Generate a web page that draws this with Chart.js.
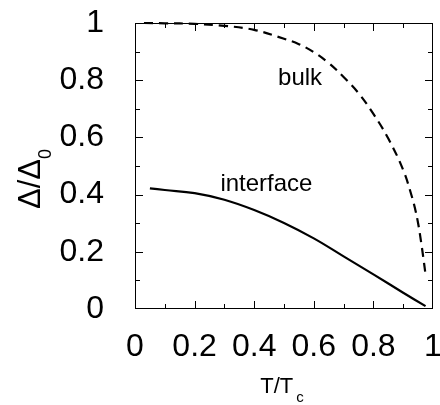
<!DOCTYPE html>
<html lang="en">
<head>
<meta charset="UTF-8">
<title>Gap vs temperature</title>
<script src="https://cdn.jsdelivr.net/npm/chart.js"></script>
<style>
  body { margin: 0; background: #fff; }
</style>
</head>
<body>
<canvas id="gapChart" width="440" height="405"></canvas>
<script>
  // reduced temperature T/Tc and normalised gap for each curve
  const bulkT = [0.03, 0.1, 0.2, 0.3, 0.4, 0.5, 0.55, 0.6, 0.65, 0.7, 0.75, 0.8, 0.85, 0.9, 0.93, 0.94, 0.95, 0.96, 0.97, 0.975];
  const bulkGap = [1.0, 0.999, 0.997, 0.99, 0.976, 0.945, 0.926, 0.898, 0.86, 0.811, 0.755, 0.682, 0.596, 0.486, 0.39, 0.35, 0.30, 0.235, 0.16, 0.12];
  const interfaceT = [0.05, 0.1, 0.2, 0.3, 0.4, 0.5, 0.6, 0.7, 0.8, 0.9, 0.975];
  const interfaceGap = [0.422, 0.416, 0.405, 0.382, 0.346, 0.301, 0.247, 0.184, 0.121, 0.057, 0.010];
  const tickValues = [0, 0.2, 0.4, 0.6, 0.8, 1];
  const curveNames = ['bulk', 'interface'];

  const FONT = '"Liberation Sans", Arial, sans-serif';
  // where the curve names sit, in data units (t, gap)
  const nameAnchors = [[0.554, 0.783], [0.441, 0.413]];

  const toPoints = (xs, ys) => xs.map((t, i) => ({ x: t, y: ys[i] }));

  // closed frame with inward ticks on all four sides, plus curve names and axis titles
  const frameTicks = {
    id: 'frameTicks',
    afterDatasetsDraw(chart) {
      const { ctx, chartArea: a, scales: { x, y } } = chart;
      ctx.save();
      ctx.strokeStyle = '#000';
      ctx.lineWidth = 1;
      ctx.strokeRect(a.left + 0.5, a.top + 0.5, a.right - a.left - 1, a.bottom - a.top - 1);

      ctx.beginPath();
      for (let i = 1; i < 10; i++) {
        const v = i / 10;
        const len = i % 2 === 0 ? 8 : 5;
        const px = Math.round(x.getPixelForValue(v)) + 0.5;
        const py = Math.round(y.getPixelForValue(v)) + 0.5;
        ctx.moveTo(px, a.bottom); ctx.lineTo(px, a.bottom - len);
        ctx.moveTo(px, a.top); ctx.lineTo(px, a.top + len);
        ctx.moveTo(a.left, py); ctx.lineTo(a.left + len, py);
        ctx.moveTo(a.right, py); ctx.lineTo(a.right - len, py);
      }
      ctx.stroke();

      ctx.fillStyle = '#000';
      ctx.font = '24px ' + FONT;
      ctx.textAlign = 'center';
      ctx.textBaseline = 'alphabetic';
      curveNames.forEach((name, i) => {
        const [t, g] = nameAnchors[i];
        ctx.fillText(name, x.getPixelForValue(t), y.getPixelForValue(g));
      });

      // x title: T/T with subscript c
      ctx.textAlign = 'left';
      ctx.font = '22px ' + FONT;
      const main = 'T/T';
      const wMain = ctx.measureText(main).width;
      ctx.font = '15px ' + FONT;
      const wSub = ctx.measureText('c').width;
      const x0 = (a.left + a.right) / 2 - 2 - (wMain + wSub + 3) / 2;
      ctx.font = '22px ' + FONT;
      ctx.fillText(main, x0, a.bottom + 84);
      ctx.font = '15px ' + FONT;
      ctx.fillText('c', x0 + wMain + 3, a.bottom + 93);

      // y title: Δ/Δ with subscript 0, rotated
      ctx.translate(40, (a.top + a.bottom) / 2 + 13);
      ctx.rotate(-Math.PI / 2);
      ctx.font = '31px ' + FONT;
      const yMain = 'Δ/Δ';
      const wy = ctx.measureText(yMain).width;
      ctx.font = '18px ' + FONT;
      const wy0 = ctx.measureText('0').width;
      const y0 = -(wy + wy0) / 2;
      ctx.font = '31px ' + FONT;
      ctx.fillText(yMain, y0, 0);
      ctx.font = '18px ' + FONT;
      ctx.fillText('0', y0 + wy, 11);
      ctx.restore();
    }
  };

  const axisTicks = {
    color: '#000',
    font: { family: FONT, size: 32 },
    autoSkip: false,
    maxRotation: 0,
    callback: v => String(Math.round(v * 10) / 10)
  };

  new Chart(document.getElementById('gapChart').getContext('2d'), {
    type: 'scatter',
    data: {
      datasets: [
        {
          label: curveNames[0],
          data: toPoints(bulkT, bulkGap),
          showLine: true,
          borderColor: '#000',
          borderWidth: 2.2,
          borderDash: [9, 6],
          pointRadius: 0,
          tension: 0.4,
          clip: false
        },
        {
          label: curveNames[1],
          data: toPoints(interfaceT, interfaceGap),
          showLine: true,
          borderColor: '#000',
          borderWidth: 2.2,
          pointRadius: 0,
          tension: 0.4,
          clip: false
        }
      ]
    },
    options: {
      responsive: false,
      animation: false,
      devicePixelRatio: 1,
      layout: { padding: { top: 23, right: 7, left: 0, bottom: 0 } },
      plugins: { legend: { display: false }, tooltip: { enabled: false } },
      scales: {
        x: {
          type: 'linear',
          min: 0,
          max: 1,
          afterBuildTicks: s => { s.ticks = tickValues.map(v => ({ value: v })); },
          ticks: Object.assign({}, axisTicks, { padding: 11 }),
          grid: { display: false },
          border: { display: false },
          afterFit: s => { s.height = 96; s.paddingLeft = 0; s.paddingRight = 0; }
        },
        y: {
          type: 'linear',
          min: 0,
          max: 1,
          afterBuildTicks: s => { s.ticks = tickValues.map(v => ({ value: v })); },
          ticks: Object.assign({}, axisTicks, { padding: 23 }),
          grid: { display: false },
          border: { display: false },
          afterFit: s => { s.width = 135; s.paddingTop = 0; s.paddingBottom = 0; }
        }
      }
    },
    plugins: [frameTicks]
  });
</script>
</body>
</html>
